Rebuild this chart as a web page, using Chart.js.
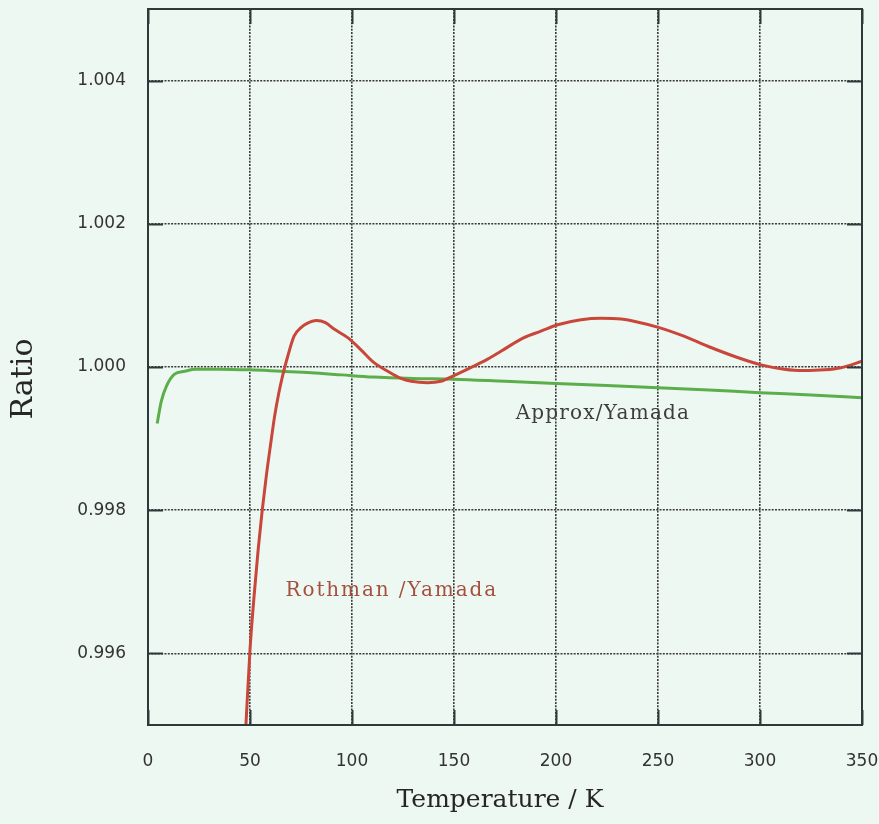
<!DOCTYPE html>
<html>
<head>
<meta charset="utf-8">
<script src="https://cdn.jsdelivr.net/npm/chart.js@4.4.1/dist/chart.umd.min.js"></script>
<style>
    html, body { margin: 0; padding: 0; background: #eef8f3; }
    canvas { display: block; }
</style>
</head>
<body>
<canvas id="chart" width="879" height="824"></canvas>
<script>
// Approx / Yamada (green)
const approxTemps = [4.5, 6.5, 9, 13, 18, 23, 35, 50, 65, 80, 95, 110, 130, 150, 175, 200, 225, 250, 275, 300, 325, 350];
const approxRatio = [0.99921, 0.99952, 0.99973, 0.99990, 0.99994, 0.99997, 0.99997, 0.99996, 0.99994, 0.99992, 0.99989, 0.99986,
    0.99984, 0.99983, 0.99980, 0.99977, 0.99974, 0.99971, 0.99968, 0.99964, 0.99961, 0.99957];

// Rothman / Yamada (red)
const rothmanTemps = [48, 50, 52, 54, 56, 58, 60, 62, 64, 66, 68.5, 71.6, 75.0, 78, 82.5, 87, 91.2, 97.9, 104.4,
    110.8, 117.5, 124.0, 129, 137, 143.6, 150, 156.7, 166.5, 173, 184.3, 192.6, 200.8, 212.3, 222, 231.9, 238.2, 250.6, 262.7,
    274.4, 287.3, 300.5, 311.9, 321, 331.5, 339.7, 350];
const rothmanRatio = [0.99500, 0.99605, 0.99680, 0.99745, 0.99800, 0.99848, 0.99890, 0.99930, 0.99962, 0.99988, 1.00015,
    1.00043, 1.00055, 1.00061, 1.00065, 1.00062, 1.00053, 1.00041, 1.00024, 1.00006, 0.99994, 0.99984, 0.99980, 0.99978,
    0.99980, 0.99988, 0.99997, 1.00011, 1.00022, 1.00041, 1.00050, 1.00059, 1.00066, 1.00068, 1.00067, 1.00064, 1.00055,
    1.00043, 1.00029, 1.00015, 1.00003, 0.99997, 0.99995, 0.99996, 0.99999, 1.00008];

const yTicks = [0.996, 0.998, 1.000, 1.002, 1.004];
const xTicks = [0, 50, 100, 150, 200, 250, 300, 350];

// in-plot labels, anchored in data coordinates
const labels = [
    {text: 'Approx/Yamada', x: 223, y: 0.99935, color: '#3d3d3d', spacing: '1.2px'},
    {text: 'Rothman /Yamada', x: 119.5, y: 0.99687, color: '#a5503f', spacing: '1.9px'}
];

const toPoints = (xs, ys) => xs.map((x, i) => ({x: x, y: ys[i]}));

const frameColor = '#2c3a3a';

const noPad = s => {
    s.paddingLeft = 0;
    s.paddingRight = 0;
    s.paddingTop = 0;
    s.paddingBottom = 0;
};

const framePlugin = {
    id: 'frame',
    beforeDraw(chart) {
        const ctx = chart.ctx;
        ctx.save();
        ctx.fillStyle = '#eef8f3';
        ctx.fillRect(0, 0, chart.width, chart.height);
        ctx.restore();
    },
    afterDraw(chart) {
        const {ctx, chartArea: a, scales: {x, y}} = chart;
        ctx.save();
        ctx.strokeStyle = frameColor;
        ctx.lineWidth = 2;
        ctx.strokeRect(a.left, a.top, a.right - a.left, a.bottom - a.top);

        // inward tick marks
        const len = 15;
        ctx.beginPath();
        xTicks.forEach(v => {
            const px = Math.round(x.getPixelForValue(v)) + 0.5;
            ctx.moveTo(px, a.bottom); ctx.lineTo(px, a.bottom - len);
            ctx.moveTo(px, a.top); ctx.lineTo(px, a.top + len);
        });
        yTicks.forEach(v => {
            const py = Math.round(y.getPixelForValue(v)) + 0.5;
            ctx.moveTo(a.left, py); ctx.lineTo(a.left + len, py);
            ctx.moveTo(a.right, py); ctx.lineTo(a.right - len, py);
        });
        ctx.stroke();

        // annotations
        ctx.font = '20px "DejaVu Serif"';
        ctx.textAlign = 'center';
        ctx.textBaseline = 'middle';
        labels.forEach(l => {
            ctx.letterSpacing = l.spacing;
            ctx.fillStyle = l.color;
            ctx.fillText(l.text, x.getPixelForValue(l.x), y.getPixelForValue(l.y));
        });
        ctx.letterSpacing = '0px';

        // axis titles
        ctx.fillStyle = '#262626';
        ctx.font = '25px "DejaVu Serif"';
        ctx.fillText('Temperature / K', 500, 800);
        ctx.translate(24, 379);
        ctx.rotate(-Math.PI / 2);
        ctx.font = '30px "DejaVu Serif"';
        ctx.fillText('Ratio', 0, 0);
        ctx.restore();
    }
};

new Chart(document.getElementById('chart'), {
    type: 'line',
    data: {
        datasets: [
            {
                label: 'Rothman /Yamada',
                data: toPoints(rothmanTemps, rothmanRatio),
                borderColor: '#c8473a',
                borderWidth: 3,
                pointRadius: 0,
                cubicInterpolationMode: 'monotone'
            },
            {
                label: 'Approx/Yamada',
                data: toPoints(approxTemps, approxRatio),
                borderColor: '#5cae4b',
                borderWidth: 3,
                pointRadius: 0,
                cubicInterpolationMode: 'monotone'
            }
        ]
    },
    options: {
        responsive: false,
        animation: false,
        layout: {padding: {top: 9, right: 17, left: 0, bottom: 0}},
        plugins: {legend: {display: false}, tooltip: {enabled: false}},
        scales: {
            x: {
                type: 'linear',
                min: 0,
                max: 350,
                afterFit: s => { s.height = 99; noPad(s); },
                afterBuildTicks: s => { s.ticks = xTicks.map(v => ({value: v})); },
                grid: {color: '#3a3a3a', lineWidth: 1.6, drawTicks: false},
                border: {display: false, dash: [2, 1.3]},
                ticks: {
                    padding: 26,
                    color: '#333',
                    font: {family: '"DejaVu Sans"', size: 17},
                    maxRotation: 0
                }
            },
            y: {
                type: 'linear',
                min: 0.995,
                max: 1.005,
                afterFit: s => { s.width = 148; noPad(s); },
                afterBuildTicks: s => { s.ticks = yTicks.map(v => ({value: v})); },
                grid: {color: '#3a3a3a', lineWidth: 1.6, drawTicks: false},
                border: {display: false, dash: [2, 1.3]},
                ticks: {
                    padding: 22,
                    color: '#333',
                    font: {family: '"DejaVu Sans"', size: 17},
                    callback: v => v.toFixed(3)
                }
            }
        }
    },
    plugins: [framePlugin]
});
</script>
</body>
</html>
